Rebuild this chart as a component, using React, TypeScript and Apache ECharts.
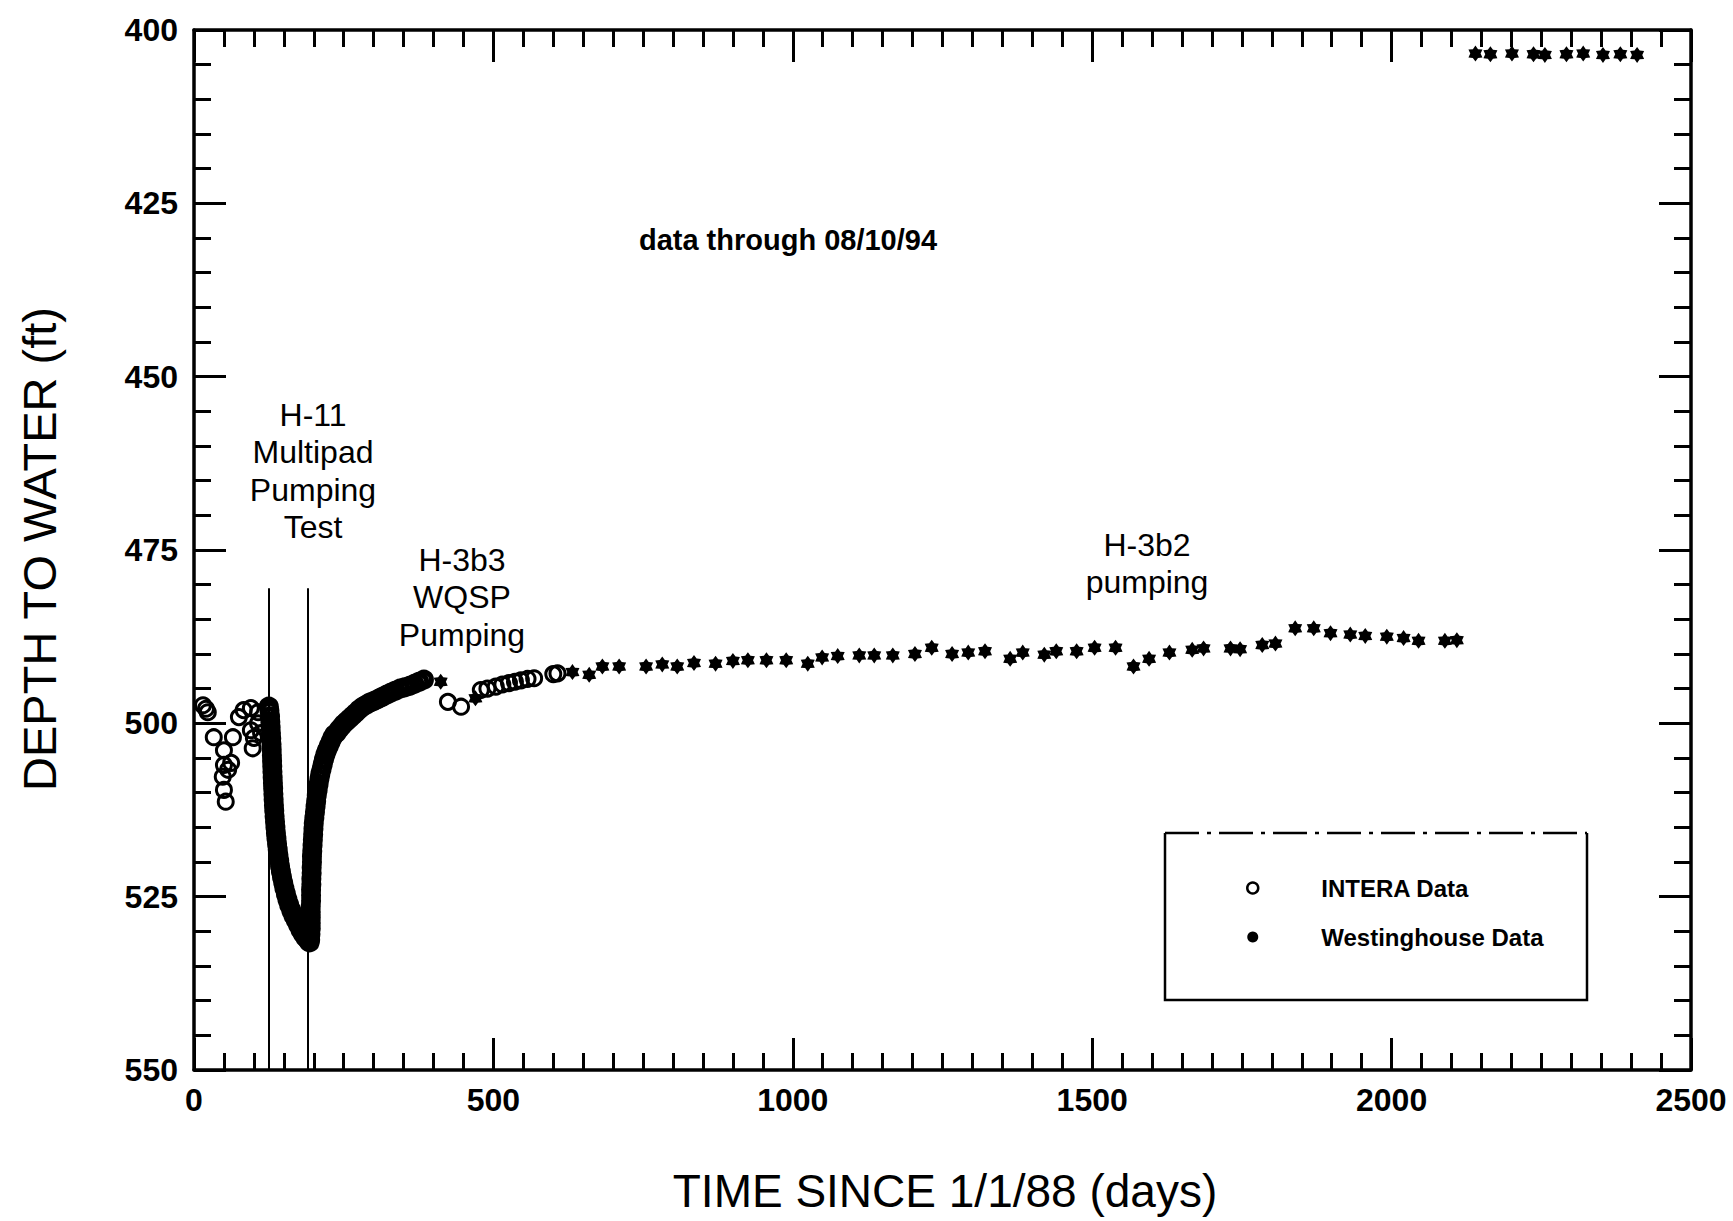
import React, { useEffect, useRef } from "react";
import * as echarts from "echarts";

// ---- Axis setup ----
const xTickLabels = [0, 500, 1000, 1500, 2000, 2500];
const yTickLabels = [400, 425, 450, 475, 500, 525, 550];

// ---- INTERA Data (days since 1/1/88, depth to water ft) ----
const interaPreTest = [
  [15, 497.4], [20, 497.9], [23, 498.4], [33, 502.0], [48, 507.7], [50, 503.9], [50, 506.0],
  [50, 509.6], [53, 511.3], [57, 506.7], [62, 505.7], [65, 502.0], [75, 499.1], [83, 498.1],
  [95, 497.8], [95, 501.0], [98, 503.6], [100, 502.1], [107, 498.4], [107, 500.0], [112, 501.4],
];
const interaDrawdown = [
  [125, 497.6], [126, 498.2], [127, 499.0], [127.5, 499.8], [128, 500.6], [128.5, 501.4],
  [129, 502.2], [129.5, 503.0], [129.8, 503.8], [130.1, 504.6], [130.4, 505.4], [130.7, 506.2],
  [131, 507.0], [131.4, 507.8], [131.8, 508.6], [132.2, 509.4], [132.6, 510.2], [133, 511.0],
  [133.5, 511.8], [134, 512.6], [134.6, 513.4], [135.3, 514.2], [136, 515.0], [136.8, 515.8],
  [137.7, 516.6], [138.7, 517.4], [139.8, 518.2], [141, 519.0], [142.3, 519.8], [143.7, 520.6],
  [145.2, 521.4], [147, 522.2], [149, 523.0], [151, 523.8], [153.5, 524.6], [156, 525.4],
  [159, 526.2], [162.5, 527.0], [166, 527.7], [170, 528.4], [174, 529.1], [178, 529.8],
  [182, 530.4], [186, 530.9], [190, 531.3], [193, 531.6],
];
const interaRecovery = [
  [194, 531.2], [194.5, 530.4], [195, 529.6], [195, 528.8], [195, 528.0], [195, 527.2],
  [195, 526.4], [195.5, 525.6], [195.5, 524.8], [195.5, 524.0], [196, 523.2], [196, 522.4],
  [196.5, 521.6], [196.5, 520.8], [197, 520.0], [197, 519.2], [197.5, 518.4], [198, 517.6],
  [198.5, 516.8], [199, 516.0], [199.5, 515.2], [200, 514.4], [201, 513.6], [202, 512.8],
  [203, 512.0], [204, 511.2], [205, 510.4], [206.5, 509.6], [208, 508.8], [209.5, 508.0],
  [211, 507.3], [213, 506.6], [215, 505.9], [217, 505.2], [219.5, 504.5], [222, 503.9],
  [225, 503.3], [228, 502.7], [231, 502.1], [234.5, 501.6], [238, 501.4], [242, 500.9],
  [246, 500.5], [250, 500.1], [255, 499.7], [260, 499.3], [265, 498.9], [270, 498.5],
  [276, 498.0], [282, 497.6], [288, 497.3], [294, 497.0], [300, 496.8], [307, 496.5],
  [314, 496.2], [321, 495.9], [328, 495.6], [336, 495.3], [344, 495.0], [352, 494.8],
  [360, 494.6], [368, 494.3], [376, 494.0], [384, 493.7],
];
const interaLate = [
  [424, 496.9], [446, 497.6], [479, 495.2], [490, 495.0], [504, 494.7], [515, 494.4],
  [526, 494.2], [536, 494.0], [546, 493.8], [557, 493.6], [568, 493.5], [600, 492.9], [607, 492.8],
];

// ---- Westinghouse Data ----
const westEarly = [[317, 496.5], [412, 494.0], [470, 496.4]];
const westLevel = [
  [632, 492.6], [660, 493.0], [682, 491.8], [710, 491.8], [755, 491.8], [782, 491.5],
  [807, 491.8], [835, 491.3], [871, 491.4], [900, 491.0], [925, 490.9], [956, 490.9],
  [989, 490.9], [1025, 491.4], [1049, 490.5], [1075, 490.3], [1111, 490.2], [1136, 490.2],
  [1167, 490.2], [1204, 490.0], [1232, 489.1], [1266, 490.0], [1293, 489.8], [1321, 489.6],
  [1363, 490.7], [1384, 489.8], [1420, 490.1], [1440, 489.6], [1474, 489.6], [1504, 489.1],
  [1539, 489.1], [1569, 491.8], [1595, 490.7], [1629, 489.8], [1667, 489.4], [1686, 489.2],
  [1731, 489.2], [1747, 489.3], [1784, 488.7], [1806, 488.5], [1839, 486.3], [1870, 486.3],
  [1898, 487.0], [1931, 487.2], [1956, 487.4], [1992, 487.5], [2020, 487.7], [2045, 488.1],
  [2089, 488.1], [2109, 488.0],
];
const westTop = [
  [2140, 403.4], [2165, 403.5], [2201, 403.4], [2237, 403.5], [2256, 403.6],
  [2292, 403.5], [2320, 403.4], [2353, 403.6], [2382, 403.5], [2410, 403.6],
];

// ---- Pumping test markers ----
const pumpLineDays = [125, 190];
const pumpLineTop = 480.5;

const STAR =
  "path://M0,-10L3.2,-5.5L8.66,-5L6.4,0L8.66,5L3.2,5.5L0,10L-3.2,5.5L-8.66,5L-6.4,0L-8.66,-5L-3.2,-5.5Z";
const FONT = "'Liberation Sans', Arial, Helvetica, sans-serif";

export default function App() {
  const ref = useRef<HTMLDivElement>(null);

  useEffect(() => {
    if (!ref.current) return;
    const chart = echarts.init(ref.current, null, { renderer: "svg" });

    const tickLabel = { fontFamily: FONT, fontWeight: "bold", fontSize: 32, color: "#000" };
    const axisLine = { show: true, onZero: false, lineStyle: { color: "#000", width: 3.5 } };
    const axisTick = { show: true, inside: true, length: 32, lineStyle: { color: "#000", width: 3 } };
    const minorTickX = { show: true, splitNumber: 10, length: 17, lineStyle: { color: "#000", width: 3 } };
    const minorTickY = { show: true, splitNumber: 5, length: 17, lineStyle: { color: "#000", width: 3 } };

    const xBase = { type: "value", min: xTickLabels[0], max: xTickLabels[xTickLabels.length - 1], interval: 500 };
    const yBase = { type: "value", min: yTickLabels[0], max: yTickLabels[yTickLabels.length - 1], interval: 25, inverse: true };
    const plain = (v: number) => String(v);

    // densely sampled pumping-test circles are drawn with a heavier ring
    const dense = (pts: number[][]) => pts.map((p) => ({ value: p, itemStyle: { borderWidth: 5 } }));

    const option: any = {
      animation: false,
      backgroundColor: "#fff",
      grid: { left: 194, right: 42, top: 30, bottom: 151 },
      xAxis: [
        {
          ...xBase,
          position: "bottom",
          axisLine,
          axisTick,
          minorTick: minorTickX,
          splitLine: { show: false },
          axisLabel: { ...tickLabel, margin: 14, formatter: plain },
        },
        {
          ...xBase,
          position: "top",
          axisLine,
          axisTick,
          minorTick: minorTickX,
          splitLine: { show: false },
          axisLabel: { show: false },
        },
      ],
      yAxis: [
        {
          ...yBase,
          position: "left",
          axisLine,
          axisTick,
          minorTick: minorTickY,
          splitLine: { show: false },
          axisLabel: { ...tickLabel, margin: 16, formatter: plain },
        },
        {
          ...yBase,
          position: "right",
          axisLine,
          axisTick,
          minorTick: minorTickY,
          splitLine: { show: false },
          axisLabel: { show: false },
        },
      ],
      legend: {
        orient: "vertical",
        left: 1241,
        top: 871,
        itemWidth: 11,
        itemHeight: 11,
        itemGap: 25,
        textStyle: {
          fontFamily: FONT,
          fontWeight: "bold",
          fontSize: 24,
          color: "#000",
          lineHeight: 24,
          padding: [0, 0, 0, 58],
        },
        data: [
          { name: "INTERA Data", icon: "circle", itemStyle: { color: "#fff", borderColor: "#000", borderWidth: 2.5, opacity: 1 } },
          { name: "Westinghouse Data", icon: "circle", itemStyle: { color: "#000", borderWidth: 0, opacity: 1 } },
        ],
      },
      series: [
        {
          name: "INTERA Data",
          type: "scatter",
          xAxisIndex: 0,
          yAxisIndex: 0,
          symbol: "circle",
          symbolSize: 15,
          itemStyle: { color: "rgba(255,255,255,0)", borderColor: "#000", borderWidth: 3, opacity: 1 },
          data: [...interaPreTest, ...dense(interaDrawdown), ...dense(interaRecovery), ...interaLate],
          markLine: {
            silent: true,
            symbol: ["none", "none"],
            label: { show: false },
            lineStyle: { color: "#000", width: 2, type: "solid", opacity: 1 },
            data: pumpLineDays.map((d) => [{ coord: [d, pumpLineTop] }, { coord: [d, yTickLabels[yTickLabels.length - 1]] }]),
          },
        },
        {
          name: "Westinghouse Data",
          type: "scatter",
          xAxisIndex: 0,
          yAxisIndex: 0,
          symbol: STAR,
          symbolSize: [14, 16],
          itemStyle: { color: "#000", opacity: 1 },
          data: [...westEarly, ...westLevel, ...westTop],
        },
      ],
      graphic: [
        {
          type: "text",
          x: 39,
          y: 549,
          rotation: Math.PI / 2,
          style: {
            text: "DEPTH TO WATER (ft)",
            font: `47px ${FONT}`,
            fill: "#000",
            textAlign: "center",
            textVerticalAlign: "middle",
            align: "center",
            verticalAlign: "middle",
          },
        },
        {
          type: "text",
          x: 945,
          y: 1191,
          style: {
            text: "TIME SINCE 1/1/88 (days)",
            font: `46px ${FONT}`,
            fill: "#000",
            textAlign: "center",
            textVerticalAlign: "middle",
            align: "center",
            verticalAlign: "middle",
          },
        },
        {
          type: "text",
          x: 788,
          y: 240,
          style: {
            text: "data through 08/10/94",
            font: `bold 29px ${FONT}`,
            fill: "#000",
            textAlign: "center",
            textVerticalAlign: "middle",
            align: "center",
            verticalAlign: "middle",
          },
        },
        {
          type: "text",
          x: 313,
          y: 396,
          style: {
            text: "H-11\nMultipad\nPumping\nTest",
            font: `32px ${FONT}`,
            lineHeight: 37.5,
            fill: "#000",
            textAlign: "center",
            textVerticalAlign: "top",
            align: "center",
            verticalAlign: "top",
          },
        },
        {
          type: "text",
          x: 462,
          y: 541,
          style: {
            text: "H-3b3\nWQSP\nPumping",
            font: `32px ${FONT}`,
            lineHeight: 37.5,
            fill: "#000",
            textAlign: "center",
            textVerticalAlign: "top",
            align: "center",
            verticalAlign: "top",
          },
        },
        {
          type: "text",
          x: 1147,
          y: 526,
          style: {
            text: "H-3b2\npumping",
            font: `32px ${FONT}`,
            lineHeight: 37.5,
            fill: "#000",
            textAlign: "center",
            textVerticalAlign: "top",
            align: "center",
            verticalAlign: "top",
          },
        },
        {
          type: "polyline",
          shape: { points: [[1165, 833], [1165, 1000], [1587, 1000], [1587, 833]] },
          style: { stroke: "#000", lineWidth: 2.5, fill: "none" },
        },
        {
          type: "line",
          shape: { x1: 1165, y1: 833, x2: 1587, y2: 833 },
          style: { stroke: "#000", lineWidth: 2.5, lineDash: [34, 8, 4, 8] },
        },
      ],
    };

    chart.setOption(option);
    return () => chart.dispose();
  }, []);

  return (
    <div
      ref={ref}
      style={{ position: "absolute", left: 0, top: 0, width: 1733, height: 1221, background: "#fff" }}
    />
  );
}
